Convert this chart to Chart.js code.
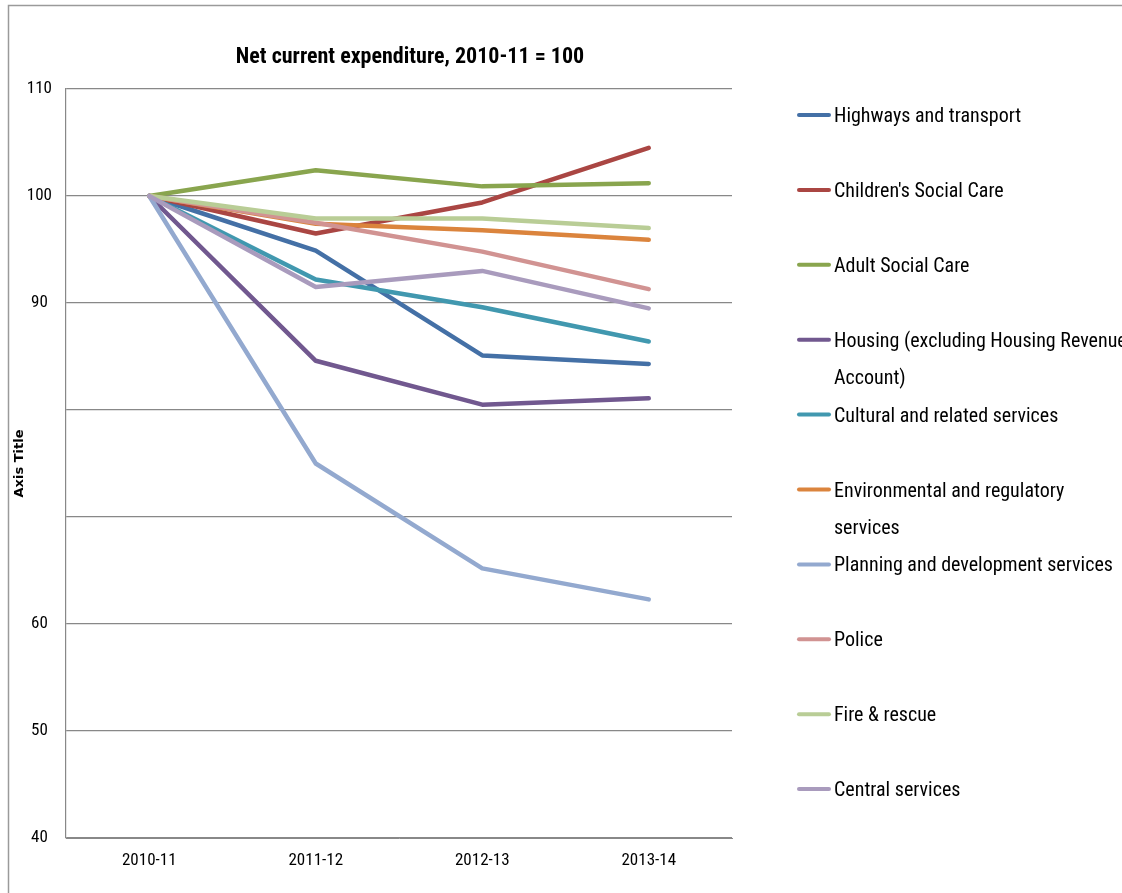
<!DOCTYPE html>
<html><head><meta charset="utf-8">
<script src="https://cdn.jsdelivr.net/npm/chart.js@4/dist/chart.umd.min.js"></script>
<style>html,body{margin:0;padding:0;background:#fff;} canvas{display:block;}</style>
</head><body>
<canvas id="c" width="1122" height="893"></canvas>
<script>
const categories = ['2010-11', '2011-12', '2012-13', '2013-14'];
const seriesNames = [
  'Highways and transport',
  "Children's Social Care",
  'Adult Social Care',
  'Housing (excluding Housing Revenue Account)',
  'Cultural and related services',
  'Environmental and regulatory services',
  'Planning and development services',
  'Police',
  'Fire & rescue',
  'Central services'
];
const highways      = [100, 94.9, 85.1, 84.3];
const childrens     = [100, 96.5, 99.4, 104.5];
const adult         = [100, 102.4, 100.9, 101.2];
const housing       = [100, 84.6, 80.5, 81.1];
const cultural      = [100, 92.2, 89.6, 86.4];
const environmental = [100, 97.4, 96.8, 95.9];
const planning      = [100, 75.0, 65.2, 62.3];
const police        = [100, 97.5, 94.8, 91.3];
const fire          = [100, 97.9, 97.9, 97.0];
const central       = [100, 91.5, 93.0, 89.5];
const seriesColors = ['#4470A6', '#AA4643', '#89A54E', '#71588F', '#4198AF',
                      '#DB843D', '#93A9CF', '#D19392', '#B9CD96', '#A99BBD'];
const yTickValues = [40, 50, 60, 70, 80, 90, 100, 110];
const yTickLabels = ['40', '50', '60', '', '', '90', '100', '110'];
const chartTitle = 'Net current expenditure, 2010-11 = 100';
const yAxisTitle = 'Axis Title';

const allSeries = [highways, childrens, adult, housing, cultural, environmental, planning, police, fire, central];
const FONT = '"Liberation Sans Narrow", "Arial Narrow", "Roboto Condensed", "Liberation Sans", sans-serif';

const datasets = allSeries.map((d, i) => ({
  label: seriesNames[i],
  data: d,
  borderColor: seriesColors[i],
  backgroundColor: seriesColors[i],
  borderWidth: 4.5,
  pointRadius: 0,
  tension: 0,
  borderCapStyle: 'round',
  borderJoinStyle: 'round',
  order: allSeries.length - i
}));

const framePlugin = {
  id: 'frame',
  beforeDraw(chart) {
    const ctx = chart.ctx;
    ctx.save();
    ctx.fillStyle = '#fff';
    ctx.fillRect(0, 0, chart.width, chart.height);
    ctx.strokeStyle = '#9a9a9a';
    ctx.lineWidth = 1.5;
    ctx.beginPath();
    ctx.moveTo(8.5, chart.height + 5);
    ctx.lineTo(8.5, 5.5);
    ctx.lineTo(chart.width + 5, 5.5);
    ctx.stroke();
    ctx.restore();
  },
  afterDraw(chart) {
    const ctx = chart.ctx;
    ctx.save();
    // title
    ctx.fillStyle = '#000';
    ctx.font = 'bold 22px ' + FONT;
    ctx.textAlign = 'center';
    ctx.textBaseline = 'middle';
    ctx.fillText(chartTitle, 410, 57);
    // legend
    ctx.font = '20px ' + FONT;
    ctx.textAlign = 'left';
    chart.data.datasets.forEach((ds, i) => {
      const y = 115 + i * 74.9;
      ctx.strokeStyle = ds.borderColor;
      ctx.lineWidth = 4;
      ctx.lineCap = 'round';
      ctx.beginPath();
      ctx.moveTo(799, y);
      ctx.lineTo(829, y);
      ctx.stroke();
      const words = ds.label.split(' ');
      const lines = [];
      let cur = '';
      words.forEach(w => {
        const t = cur ? cur + ' ' + w : w;
        if (cur && ctx.measureText(t).width > 300) { lines.push(cur); cur = w; }
        else cur = t;
      });
      if (cur) lines.push(cur);
      ctx.fillStyle = '#000';
      lines.forEach((ln, k) => ctx.fillText(ln, 834, y + 2 + k * 37));
    });
    ctx.restore();
  }
};

new Chart(document.getElementById('c'), {
  type: 'line',
  data: { labels: categories, datasets },
  plugins: [framePlugin],
  options: {
    responsive: false,
    devicePixelRatio: 1,
    animation: false,
    layout: { padding: { top: 89, right: 390, bottom: 0, left: 0 } },
    plugins: { legend: { display: false }, title: { display: false }, tooltip: { enabled: false } },
    scales: {
      x: {
        offset: true,
        grid: { display: false, drawTicks: false },
        border: { display: true, color: '#888', width: 1 },
        ticks: { padding: 13, color: '#000', font: { family: FONT, size: 17 } },
        afterFit(s) { s.height = 55; }
      },
      y: {
        min: 40, max: 110,
        afterBuildTicks(s) { s.ticks = yTickValues.map(v => ({ value: v })); },
        grid: { color: '#888', lineWidth: 1.2, drawTicks: false },
        border: { display: true, color: '#888', width: 1.2 },
        ticks: {
          padding: 14, crossAlign: 'center', color: '#000',
          font: { family: FONT, size: 17 },
          callback: (v) => yTickLabels[yTickValues.indexOf(v)]
        },
        title: {
          display: true, text: yAxisTitle, color: '#000',
          font: { family: '"DejaVu Sans", sans-serif', size: 13, weight: 'bold' },
          padding: { top: 12, bottom: 0 }
        },
        afterFit(s) { s.width = 66; }
      }
    }
  }
});
</script>
</body></html>
